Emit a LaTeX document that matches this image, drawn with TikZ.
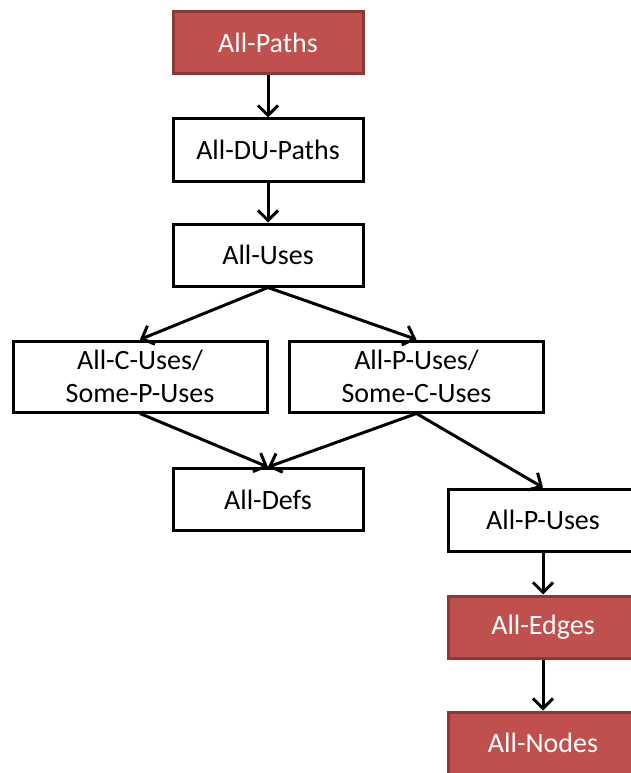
\documentclass[tikz,border=0pt]{standalone}
\usepackage{fontspec}
\setmainfont{Carlito}
\usetikzlibrary{arrows.meta}
\definecolor{boxred}{HTML}{C0504D}
\definecolor{boxredline}{HTML}{8C3836}
\begin{document}
\begin{tikzpicture}[x=1pt,y=-1pt,
  box/.style={draw=black, line width=3pt, fill=white, text=black, minimum width=190pt, minimum height=62pt, align=center, inner sep=0pt, font=\fontsize{28}{33}\selectfont},
  wide/.style={minimum width=254pt, minimum height=71pt},
  redbox/.style={box, fill=boxred, draw=boxredline, text=white},
  conn/.style={line width=3pt, -{Straight Barb[length=10pt,width=20pt,line width=3pt]}}
]
\useasboundingbox (0,0) rectangle (631,773);
\node[redbox] (paths) at (268,42.5) {All-Paths};
\node[box] (du) at (268,150) {All-DU-Paths};
\node[box] (uses) at (268,255) {All-Uses};
\node[box,wide] (cuse) at (140,376.5) {All-C-Uses/\\Some-P-Uses};
\node[box,wide] (puse) at (416.5,376.5) {All-P-Uses/\\Some-C-Uses};
\node[box] (defs) at (268,499.5) {All-Defs};
\node[box] (pu) at (543,520) {All-P-Uses};
\node[redbox] (edges) at (543,627) {All-Edges};
\node[redbox] (nodes) at (543,743) {All-Nodes};
\draw[conn] (paths.south) -- (du.north);
\draw[conn] (du.south) -- (uses.north);
\draw[conn] (uses.south) -- (cuse.north);
\draw[conn] (uses.south) -- (puse.north);
\draw[conn] (cuse.south) -- (defs.north);
\draw[conn] (puse.south) -- (defs.north);
\draw[conn] (puse.south) -- (pu.north);
\draw[conn] (pu.south) -- (edges.north);
\draw[conn] (edges.south) -- (nodes.north);
\end{tikzpicture}
\end{document}
